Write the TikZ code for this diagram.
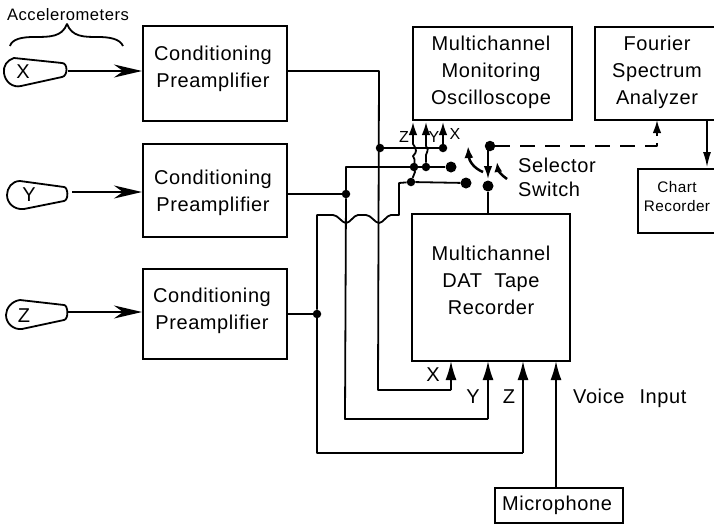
\documentclass[tikz,border=0pt]{standalone}
\usepackage{fontspec}
\setmainfont{Liberation Sans}[LetterSpace=3]
\usetikzlibrary{arrows.meta}
\newcommand{\fa}{\fontsize{20}{27}\selectfont}
\newcommand{\fs}{\fontsize{20}{24}\selectfont}
\newcommand{\fb}{\fontsize{16.6}{24}\selectfont}
\newcommand{\fc}{\fontsize{15.3}{19}\selectfont}
\newcommand{\fd}{\fontsize{16}{19}\selectfont}
\tikzset{
  blockbox/.style={draw,line width=1.8pt,anchor=north west,inner sep=0pt},
  wire/.style={line width=1.8pt,line join=round},
  heavy/.style={line width=2.6pt,line join=round},
  bigtip/.style={-{Stealth[length=28pt,width=13pt,inset=9pt]}},
  midtip/.style={-{Latex[length=19pt,width=11pt]}},
  smalltip/.style={-{Latex[length=13pt,width=8.5pt]}},
  dotsmall/.style={circle,fill=black,inner sep=0pt,minimum size=8.5pt},
  dotbig/.style={circle,fill=black,inner sep=0pt,minimum size=11pt},
  txt/.style={inner sep=0pt,align=center,font=\fa},
}
\begin{document}
\begin{tikzpicture}[x=1pt,y=-1pt]
\useasboundingbox (0,0) rectangle (714,525);
% blocks
\node[blockbox,minimum width=144pt,minimum height=95pt] (p1) at (142,25) {};
\node[blockbox,minimum width=144pt,minimum height=93pt] (p2) at (142,143) {};
\node[blockbox,minimum width=144pt,minimum height=90pt] (p3) at (142,268) {};
\node[blockbox,minimum width=159pt,minimum height=93pt] (osc) at (412,26) {};
\node[blockbox,minimum width=128pt,minimum height=93pt] (fft) at (594,26) {};
\node[blockbox,minimum width=84pt,minimum height=64pt] (chart) at (637,168) {};
\node[blockbox,minimum width=158pt,minimum height=147pt] (dat) at (411,213) {};
\node[blockbox,minimum width=128pt,minimum height=35pt] (mic) at (494,487) {};
\node[txt] (p1t) at (213,68.5) {Conditioning\\Preamplifier};
\node[txt] (p2t) at (213,193) {Conditioning\\Preamplifier};
\node[txt] (p3t) at (212,311) {Conditioning\\Preamplifier};
\node[txt] (osct) at (491,72.5) {Multichannel\\Monitoring\\Oscilloscope};
\node[txt] (fftt) at (657,72.5) {Fourier\\Spectrum\\Analyzer};
\node[txt,font=\fc] (chartt) at (677,197) {Chart\\Recorder};
\node[txt] (datt) at (491,280.5) {Multichannel\\DAT\ \ Tape\\Recorder};
\node[txt] (mict) at (557,505) {Microphone};
% accelerometers
\draw[wire] (14,58) .. controls (7,60) and (3,66) .. (4,73) .. controls (5,82) and (13,88) .. (21,86) -- (62,77) .. controls (68,76) and (68,63) .. (62,63) -- cycle;
\node[txt] (ax) at (23,72) {X};
\draw[wire] (20,181) .. controls (12,181) and (7,188) .. (7,195) .. controls (7,203) and (14,210) .. (24,209) -- (64,201) .. controls (69,200) and (68,187) .. (64,187) -- cycle;
\node[txt] (ay) at (29,195) {Y};
\draw[wire] (20,300) .. controls (12,301) and (6,308) .. (6,315) .. controls (6,323) and (13,330) .. (22,329) -- (64,320) .. controls (69,319) and (68,305) .. (64,305) -- cycle;
\node[txt] (az) at (24,316) {Z};
\coordinate (axo) at (68,71);
\coordinate (ayo) at (72,192);
\coordinate (azo) at (68,312);
\draw[wire,bigtip] (axo) -- (p1.west |- axo);
\draw[heavy,bigtip] (ayo) -- (p2.west |- ayo);
\draw[wire,bigtip] (azo) -- (p3.west |- azo);
% brace
\node[txt,font=\fb] (acc) at (68,15) {Accelerometers};
\draw[wire] (10,46) .. controls (12,39) and (22,37) .. (34,37) .. controls (50,37) and (62,37) .. (67,24) .. controls (72,37) and (84,37) .. (98,37) .. controls (110,37) and (120,39) .. (123,46);
% junctions
\node[dotsmall] (jx) at (380,148) {};
\node[dotsmall] (jxe) at (443,148) {};
\node[dotsmall] (jy) at (346,194) {};
\node[dotsmall] (jyy) at (426,167) {};
\node[dotsmall] (jyz) at (414,167) {};
\node[dotbig] (ty) at (451,167) {};
\node[dotsmall] (jz) at (317,314) {};
\node[dotsmall] (jzz) at (411,182) {};
\node[dotbig] (tz) at (466,183) {};
\node[dotbig] (sw) at (488,186) {};
\node[dotsmall,minimum size=10.5pt] (so) at (490,146) {};
% X wire
\coordinate (xa) at (379,71);
\coordinate (xb) at (378,390);
\coordinate (xc) at (451,390);
\coordinate (xd) at (451,361);
\draw[wire] (p1.east |- xa) -- (xa) -- (xb) -- (xc);
\draw[wire,midtip] (xc) -- (xd);
\draw[wire] (jx) -- (jxe);
\draw[wire,smalltip] (jxe) -- (443,122);
% Y wire
\coordinate (ya) at (346,167);
\coordinate (yb) at (345,419);
\coordinate (yc) at (488,419);
\coordinate (yd) at (488,361);
\draw[heavy] (p2.east |- jy) -- (jy);
\draw[wire] (jy) -- (ya) -- (ty);
\draw[wire] (jy) -- (yb) -- (yc);
\draw[wire,midtip] (yc) -- (yd);
\draw[wire,smalltip] (jyy) -- (426,155) .. controls (426,151) and (430,151) .. (426,146) -- (426,122);
% Z wire
\coordinate (za) at (317,215);
\coordinate (zb) at (317,453);
\coordinate (zc) at (523,453);
\coordinate (zd) at (523,361);
\draw[heavy] (p3.east |- jz) -- (jz);
\draw[wire] (jz) -- (zb) -- (zc);
\draw[wire,midtip] (zc) -- (zd);
\draw[wire] (jz) -- (za) -- (333,215) .. controls (338,215) and (342,223) .. (346,223) .. controls (350,223) and (354,215) .. (358,215) -- (366,215) .. controls (371,215) and (375,223) .. (379,223) .. controls (383,223) and (387,215) .. (391,215) -- (399,215) -- (399,183) -- (jzz) -- (tz);
\draw[wire,smalltip] (jzz) -- (415,172) .. controls (412,168) and (417,160) .. (413,156) .. controls (417,152) and (417,150) .. (413,144) -- (413,122);
% selector
\coordinate (datsw) at (488,213);
\coordinate (sot) at (488,146);
\coordinate (dashup) at (657,146);
\coordinate (dashtop) at (657,136);
\draw[wire] (datsw) -- (sw);
\draw[wire,smalltip] (sot) -- (488,179);
\draw[wire,dash pattern=on 15pt off 10pt] (so) -- (dashup) -- (dashtop);
\draw[wire,smalltip] (dashtop) -- (657,120);
\draw[line width=1.3pt,-{Latex[length=15pt,width=8pt]}] (707,119) -- (707,167);
% selector arrows
\draw[line width=2.5pt,-{Latex[length=12pt,width=9pt]}] (483,172) .. controls (473,168) and (469,160) .. (468,146);
\draw[line width=2.5pt,-{Latex[length=10pt,width=8pt]}] (507,179) .. controls (501,175) and (498,170) .. (497,162);
% labels
\node[txt,font=\fd] (lz) at (404,137) {Z};
\node[txt,font=\fd] (ly) at (434,137) {Y};
\node[txt,font=\fd] (lx) at (455,134) {X};
\node[txt,align=left,anchor=west,font=\fs] (ls) at (518,177) {Selector\\Switch};
\node[txt] (ix) at (433,375) {X};
\node[txt] (iy) at (473,397) {Y};
\node[txt] (iz) at (509,397) {Z};
\node[txt,anchor=west] (lv) at (573,398) {Voice\hspace{15pt}Input};
\coordinate (micup) at (556,361);
\draw[wire,midtip] (mic.north -| micup) -- (micup);
\end{tikzpicture}
\end{document}
